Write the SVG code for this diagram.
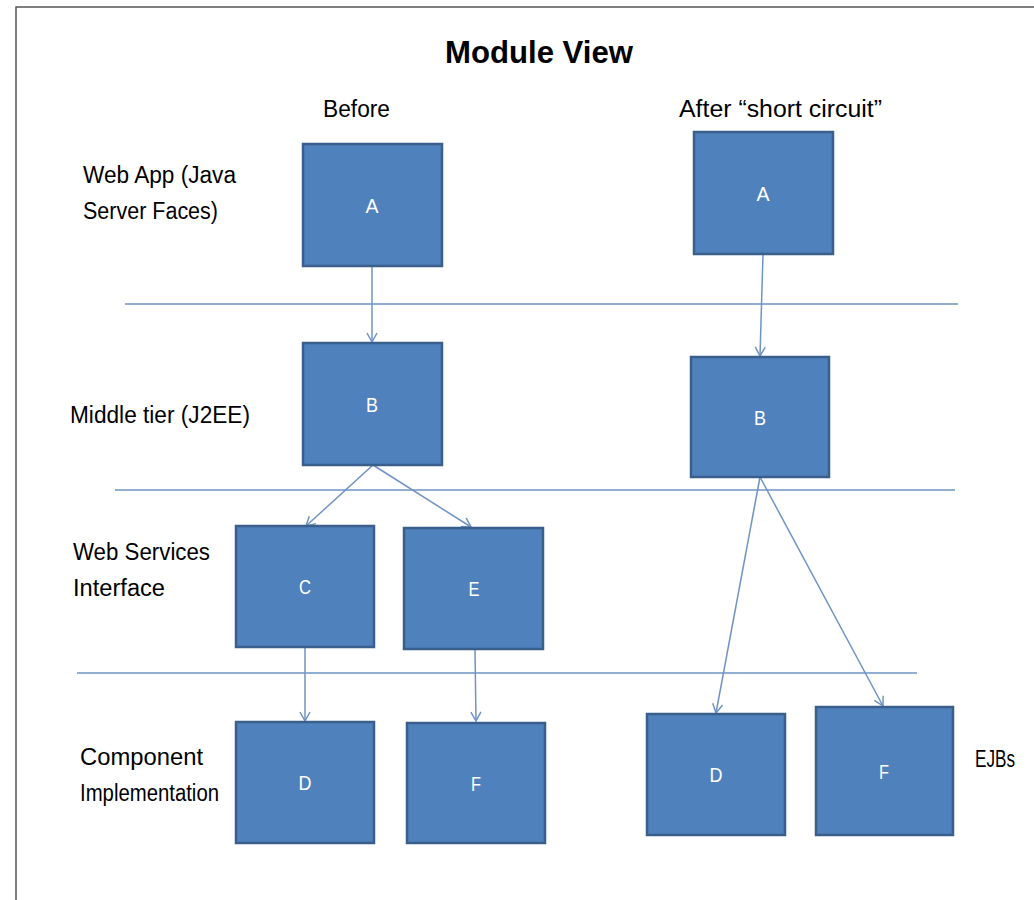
<svg xmlns="http://www.w3.org/2000/svg" width="1034" height="900" viewBox="0 0 1034 900">
<style>
.box{fill:#4F81BD;stroke:#3A5F8C;stroke-width:2.5}
.lt{fill:#fff;font-family:"Liberation Sans",Arial,sans-serif;font-size:21px;text-anchor:middle}
.lbl{fill:#000;font-family:"Liberation Sans",Arial,sans-serif;font-size:23px}
.sep{stroke:#6F93C4;stroke-width:1.5;fill:none}
.con{stroke:#6F93C4;stroke-width:1.5;fill:none;marker-end:url(#ah)}
</style>
<defs>
<marker id="ah" markerWidth="12" markerHeight="12" refX="10" refY="6" orient="auto" markerUnits="userSpaceOnUse">
<path d="M1,1 L10,6 L1,11" fill="none" stroke="#6F93C4" stroke-width="1.5"/>
</marker>
</defs>
<rect width="1034" height="900" fill="#fff"/>
<path d="M16,900 V7 H1034" fill="none" stroke="#555" stroke-width="1.5"/>
<g id="labels">
<text x="539" y="63" text-anchor="middle" font-family="Liberation Sans,Arial,sans-serif" font-size="32" font-weight="bold" textLength="188" lengthAdjust="spacingAndGlyphs">Module View</text>
<text class="lbl" x="323" y="117" textLength="67" lengthAdjust="spacingAndGlyphs">Before</text>
<text class="lbl" x="679" y="117" textLength="203" lengthAdjust="spacingAndGlyphs">After “short circuit”</text>
<text class="lbl" x="83" y="183" textLength="153" lengthAdjust="spacingAndGlyphs">Web App (Java</text>
<text class="lbl" x="83" y="219" textLength="135" lengthAdjust="spacingAndGlyphs">Server Faces)</text>
<text class="lbl" x="70" y="423" textLength="180" lengthAdjust="spacingAndGlyphs">Middle tier (J2EE)</text>
<text class="lbl" x="73" y="560" textLength="137" lengthAdjust="spacingAndGlyphs">Web Services</text>
<text class="lbl" x="73" y="596" textLength="92" lengthAdjust="spacingAndGlyphs">Interface</text>
<text class="lbl" x="80" y="765" textLength="123" lengthAdjust="spacingAndGlyphs">Component</text>
<text class="lbl" x="80" y="801" textLength="139" lengthAdjust="spacingAndGlyphs">Implementation</text>
<text class="lbl" x="975" y="767" textLength="40" lengthAdjust="spacingAndGlyphs">EJBs</text>
</g>
<g id="separators">
<line class="sep" x1="125" y1="304" x2="958" y2="304"/>
<line class="sep" x1="115" y1="490" x2="955" y2="490"/>
<line class="sep" x1="77" y1="673" x2="917" y2="673"/>
</g>
<g id="connectors">
<line class="con" x1="372" y1="266" x2="372" y2="342"/>
<line class="con" x1="373" y1="465" x2="306" y2="526"/>
<line class="con" x1="373" y1="465" x2="471" y2="527"/>
<line class="con" x1="305" y1="647" x2="305" y2="721"/>
<line class="con" x1="475" y1="649" x2="476" y2="721"/>
<line class="con" x1="763" y1="254" x2="760" y2="356"/>
<line class="con" x1="760" y1="477" x2="716" y2="713"/>
<line class="con" x1="760" y1="477" x2="883" y2="706"/>
</g>
<g id="A1"><rect class="box" x="303" y="144" width="139" height="122"/><text class="lt" x="372" y="213" textLength="13" lengthAdjust="spacingAndGlyphs">A</text></g>
<g id="B1"><rect class="box" x="303" y="343" width="139" height="122"/><text class="lt" x="372" y="412" textLength="12" lengthAdjust="spacingAndGlyphs">B</text></g>
<g id="C1"><rect class="box" x="236" y="526" width="138" height="121"/><text class="lt" x="305" y="594" textLength="12" lengthAdjust="spacingAndGlyphs">C</text></g>
<g id="E1"><rect class="box" x="404" y="528" width="139" height="121"/><text class="lt" x="474" y="596" textLength="11" lengthAdjust="spacingAndGlyphs">E</text></g>
<g id="D1"><rect class="box" x="236" y="722" width="138" height="121"/><text class="lt" x="305" y="790" textLength="13" lengthAdjust="spacingAndGlyphs">D</text></g>
<g id="F1"><rect class="box" x="407" y="723" width="138" height="120"/><text class="lt" x="476" y="791" textLength="10" lengthAdjust="spacingAndGlyphs">F</text></g>
<g id="A2"><rect class="box" x="694" y="132" width="139" height="122"/><text class="lt" x="763" y="201" textLength="13" lengthAdjust="spacingAndGlyphs">A</text></g>
<g id="B2"><rect class="box" x="691" y="357" width="138" height="120"/><text class="lt" x="760" y="425" textLength="12" lengthAdjust="spacingAndGlyphs">B</text></g>
<g id="D2"><rect class="box" x="647" y="714" width="138" height="121"/><text class="lt" x="716" y="782" textLength="13" lengthAdjust="spacingAndGlyphs">D</text></g>
<g id="F2"><rect class="box" x="816" y="707" width="137" height="128"/><text class="lt" x="884" y="779" textLength="10" lengthAdjust="spacingAndGlyphs">F</text></g>
</svg>
